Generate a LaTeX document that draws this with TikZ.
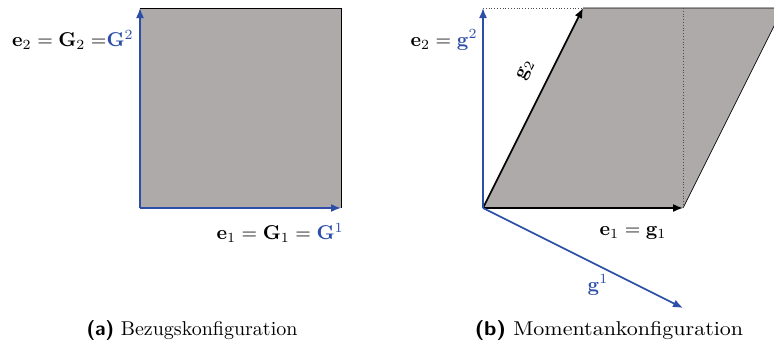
\documentclass[tikz,border=0pt]{standalone}
\usepackage{amsmath}
\usetikzlibrary{arrows.meta}
\definecolor{fillgray}{RGB}{174,170,169}
\definecolor{vblue}{RGB}{45,78,168}
\tikzset{
  vec/.style={line width=0.8pt,-{Latex[length=5pt,width=4pt]}},
  bvec/.style={vec,vblue},
  kvec/.style={vec,black},
  edge/.style={line width=0.35pt,black},
  dotl/.style={line width=0.4pt,black!70,densely dotted},
  lbl/.style={inner sep=0pt},
}
\begin{document}
\begin{tikzpicture}[x=0.5pt,y=-0.5pt]
\useasboundingbox (0,0) rectangle (774,344);
% ---------- (a) ----------
\coordinate (A0) at (140,208);
\coordinate (A1) at (341,208);
\coordinate (A2) at (140,8);
\coordinate (A3) at (341,8);
\fill[fillgray] (A0) -- (A1) -- (A3) -- (A2) -- cycle;
\draw[edge] (A2) -- (A3) -- (A1);
\draw[bvec] (A0) -- (A2);
\draw[bvec] (A0) -- (A1);
\node[lbl,anchor=east] (la2) at (134,40) {$\mathbf{e}_2=\mathbf{G}_2\;{=}\textcolor{vblue}{\mathbf{G}^2}$};
\node[lbl,anchor=east] (la1) at (344,233) {$\mathbf{e}_1=\mathbf{G}_1=\textcolor{vblue}{\mathbf{G}^1}$};
\node[lbl] (capa) at (192,330) {\textsf{\bfseries (a)} Bezugskonfiguration};
% ---------- (b) ----------
\coordinate (B0) at (483,208);
\coordinate (B1) at (683,208);
\coordinate (B2) at (583,8);
\coordinate (B3) at (783,8);
\coordinate (E2) at (483,8);
\coordinate (P1) at (683,8);
\coordinate (G1) at (683,308);
\begin{scope}
\clip (0,0) rectangle (774,344);
\fill[fillgray] (B0) -- (B1) -- (B3) -- (B2) -- cycle;
\draw[edge] (B2) -- (B3) -- (B1);
\end{scope}
\draw[dotl] (E2) -- (B2);
\draw[dotl] (P1) -- (B1);
\draw[kvec] (B0) -- (B2);
\draw[kvec] (B0) -- (B1);
\draw[bvec] (B0) -- (E2);
\draw[bvec] (B0) -- (G1);
\node[lbl,rotate=63.4] (lg2) at (526,70) {$\mathbf{g}_2$};
\node[lbl,anchor=east] (lb2) at (478,40) {$\mathbf{e}_2=\textcolor{vblue}{\mathbf{g}^2}$};
\node[lbl] (lb1) at (633,233) {$\mathbf{e}_1=\mathbf{g}_1$};
\node[lbl,text=vblue] (lg1) at (598,285) {$\mathbf{g}^1$};
\node[lbl,xscale=1.1] (capb) at (609,330) {\textsf{\bfseries (b)} Momentankonfiguration};
\end{tikzpicture}
\end{document}
